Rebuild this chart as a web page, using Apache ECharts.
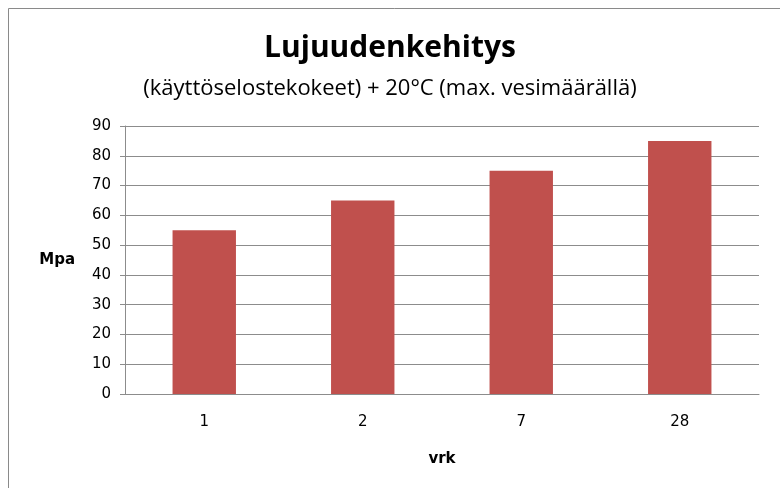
<!DOCTYPE html>
<html>
<head>
<meta charset="utf-8">
<script src="https://cdn.jsdelivr.net/npm/echarts@6/dist/echarts.min.js"></script>
<style>
  html, body { margin: 0; padding: 0; background: #fff; }
  #chart { width: 780px; height: 488px; }
</style>
</head>
<body>
<div id="chart"></div>
<script>
// data
var categories = ["1", "2", "7", "28"];
var strength = [55, 65, 75, 85];
var yTicks = { min: 0, max: 90, interval: 10 };

var myChart = echarts.init(document.getElementById("chart"), null, {
    width: 780,
    height: 488,
});

var option = {
    backgroundColor: "#fff",
    animation: false,
    graphic: [{
        type: "rect",
        shape: { x: 8.5, y: 8.5, width: 800, height: 520 },
        style: { fill: null, stroke: "#8a8a8a", lineWidth: 1 },
    }],
    title: {
        text: "Lujuudenkehitys",
        subtext: "(käyttöselostekokeet) + 20°C (max. vesimäärällä)",
        left: "center",
        top: 28,
        itemGap: 15,
        textStyle: {
            fontFamily: "Open Sans",
            fontSize: 30,
            fontWeight: "bold",
            color: "#000",
        },
        subtextStyle: {
            fontFamily: "Open Sans",
            fontSize: 22,
            color: "#000",
        },
    },
    grid: { left: 125, right: 21, top: 126, bottom: 94 },
    xAxis: {
        type: "category",
        data: categories,
        name: "vrk",
        nameLocation: "middle",
        nameGap: 58,
        nameTextStyle: { fontFamily: "DejaVu Sans", fontSize: 15, fontWeight: "bold", color: "#000" },
        axisLine: { lineStyle: { color: "#8c8c8c" } },
        axisTick: { length: 5, lineStyle: { color: "#8c8c8c" } },
        axisLabel: { fontFamily: "DejaVu Sans", fontSize: 15, color: "#000", margin: 21 },
    },
    yAxis: {
        type: "value",
        min: yTicks.min,
        max: yTicks.max,
        interval: yTicks.interval,
        name: "Mpa",
        nameLocation: "middle",
        nameRotate: 0,
        nameGap: 50,
        nameTextStyle: { fontFamily: "DejaVu Sans", fontSize: 15, fontWeight: "bold", color: "#000" },
        axisLine: { show: true, lineStyle: { color: "#8c8c8c" } },
        axisTick: { show: true, length: 5, lineStyle: { color: "#8c8c8c" } },
        axisLabel: { fontFamily: "DejaVu Sans", fontSize: 15, color: "#000", margin: 14 },
        splitLine: { lineStyle: { color: "#8c8c8c" } },
    },
    series: [{
        type: "bar",
        data: strength,
        barWidth: "40%",
        itemStyle: { color: "#C0504D" },
    }],
};
myChart.setOption(option);
</script>
</body>
</html>
